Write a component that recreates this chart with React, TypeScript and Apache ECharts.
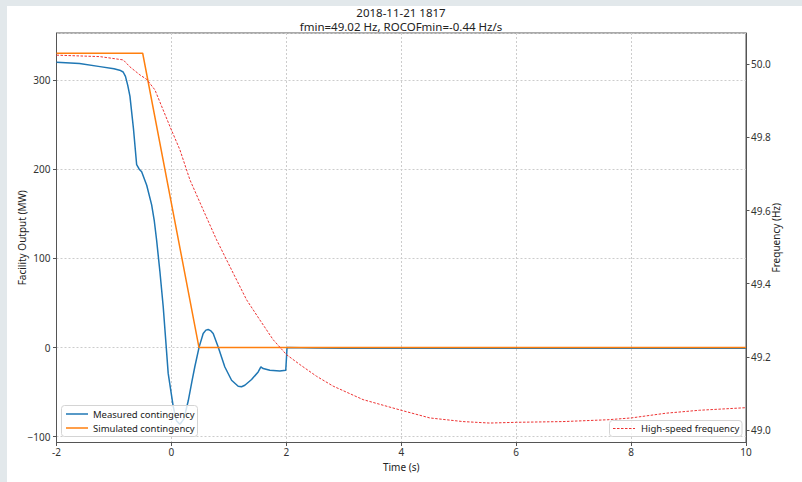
import React, { useEffect, useRef } from "react";
import * as echarts from "echarts";

const FONT = "'Noto Sans', 'Open Sans', sans-serif";

const titleLines = ["2018-11-21 1817", "fmin=49.02 Hz, ROCOFmin=-0.44 Hz/s"];

const measuredTime = [
  -2.0, -1.6, -1.243, -1.0, -0.9, -0.84, -0.8, -0.76, -0.722, -0.66, -0.605, -0.56, -0.518, -0.43,
  -0.344, -0.3, -0.257, -0.2, -0.143, -0.1, -0.056, 0.031, 0.087, 0.148, 0.217, 0.292, 0.357,
  0.409, 0.483, 0.553, 0.6, 0.64, 0.68, 0.727, 0.814, 0.93, 1.047, 1.162, 1.22, 1.278, 1.395,
  1.51, 1.557, 1.597, 1.713, 1.887, 1.99, 2.005, 2.012, 2.5, 3.0, 3.5, 4.0, 4.5, 5.0, 5.5, 6.0,
  6.5, 7.0, 7.5, 8.0, 8.5, 9.0, 9.5, 10.0,
];
const measuredMW = [
  320, 318.5, 315, 312.5, 311, 309, 304, 294, 282, 245, 205, 200, 197, 182,
  160, 143, 120, 85, 46, 9, -29, -66, -82, -86, -80, -60, -38,
  -21, 0.7, 15.7, 19.5, 20.2, 19, 15.7, 0.7, -21.8, -36.7, -43.4, -44, -42.3, -35.9,
  -27.4, -21.8, -23.6, -25.5, -26.2, -25.5, -8.6, 0, -0.6, -0.9, -0.5, -0.8, -0.6, -0.9, -0.5, -0.8,
  -0.6, -0.9, -0.5, -0.8, -0.6, -0.9, -0.5, -0.7,
];

const simulatedTime = [-2.0, -0.5, 0.48, 10.0];
const simulatedMW = [330, 330, 0, 0];

const freqTime = [
  -2.0, -1.243, -0.838, -0.722, -0.548, -0.431, -0.287, -0.026, 0.148, 0.322, 0.553, 0.786,
  1.075, 1.308, 1.539, 1.77, 2.003, 2.235, 2.525, 2.814, 3.336, 3.974, 4.496, 5.075, 5.539,
  6.003, 6.814, 7.597, 8.003, 8.612, 9.191, 10.0,
];
const freqHz = [
  50.025, 50.021, 50.012, 49.993, 49.971, 49.959, 49.93, 49.83, 49.766, 49.684, 49.602, 49.52,
  49.429, 49.356, 49.301, 49.247, 49.206, 49.179, 49.147, 49.12, 49.083, 49.055, 49.033, 49.023, 49.019,
  49.021, 49.023, 49.028, 49.033, 49.046, 49.054, 49.061,
];

const seriesNames = ["Measured contingency", "Simulated contingency", "High-speed frequency"];
const seriesColors = ["#1f77b4", "#ff7f0e", "#ee3333"];

export default function App() {
  const ref = useRef<HTMLDivElement>(null);
  useEffect(() => {
    if (!ref.current) return;
    const chart = echarts.init(ref.current, undefined, { renderer: "svg" });
    const labelColor = "#333";
    const axisColor = "#555";
    const gridLine = { show: true, lineStyle: { color: "#cccccc", type: [2, 2], width: 1 } };
    const legendText = { fontSize: 9.5, fill: "#222", fontFamily: FONT, verticalAlign: "middle", align: "left" };
    const box = { fill: "rgba(255,255,255,0.8)", stroke: "#d4d4d4", lineWidth: 1 };
    const titleStyle = { fontSize: 11.5, fontWeight: "normal", color: "#222", lineHeight: 12, fontFamily: FONT };
    chart.setOption({
      animation: false,
      backgroundColor: "#ffffff",
      textStyle: { fontFamily: FONT },
      graphic: [
        { type: "rect", z: -10, shape: { x: 0, y: 0, width: 802, height: 6 }, style: { fill: "#e2e8eb" } },
        { type: "rect", z: -10, shape: { x: 0, y: 0, width: 7, height: 482 }, style: { fill: "#e2e8eb" } },
        // legend 1
        { type: "rect", z: 100, shape: { x: 61.5, y: 405.5, width: 136, height: 31, r: 3 }, style: box },
        { type: "line", z: 101, shape: { x1: 66, y1: 414, x2: 88, y2: 414 }, style: { stroke: seriesColors[0], lineWidth: 1.5 } },
        { type: "text", z: 101, x: 93, y: 414, style: { ...legendText, text: seriesNames[0] } },
        { type: "line", z: 101, shape: { x1: 66, y1: 428, x2: 88, y2: 428 }, style: { stroke: seriesColors[1], lineWidth: 1.5 } },
        { type: "text", z: 101, x: 93, y: 428, style: { ...legendText, text: seriesNames[1] } },
        // legend 2
        { type: "rect", z: 100, shape: { x: 609.5, y: 420.5, width: 132.5, height: 16, r: 3 }, style: box },
        { type: "line", z: 101, shape: { x1: 613, y1: 428.5, x2: 635, y2: 428.5 }, style: { stroke: seriesColors[2], lineWidth: 1, lineDash: [2.5, 1.5] } },
        { type: "text", z: 101, x: 641, y: 428.5, style: { ...legendText, text: seriesNames[2] } },
      ],
      title: [
        { text: titleLines[0], left: "center", top: 6.5, padding: 0, textStyle: titleStyle },
        { text: titleLines[1], left: "center", top: 20.5, padding: 0, textStyle: titleStyle },
      ],
      grid: {
        left: 56.5,
        right: 56,
        top: 33,
        bottom: 39.5,
        show: true,
        borderColor: axisColor,
        borderWidth: 1,
        backgroundColor: "transparent",
        outerBoundsMode: "none",
        containLabel: false,
      },
      xAxis: {
        type: "value",
        min: -2,
        max: 10,
        interval: 2,
        name: "Time (s)",
        nameLocation: "middle",
        nameGap: 19,
        nameMoveOverlap: false,
        nameTextStyle: { fontSize: 10, color: "#222", lineHeight: 11, fontFamily: FONT },
        axisLine: { show: true, onZero: false, lineStyle: { color: axisColor } },
        axisTick: { show: true, length: 3.5, lineStyle: { color: axisColor } },
        axisLabel: { fontSize: 10, color: labelColor, margin: 3.5, lineHeight: 11, fontFamily: FONT },
        splitLine: gridLine,
      },
      yAxis: [
        {
          type: "value",
          position: "left",
          min: -106.5,
          max: 352.7,
          splitNumber: 5,
          name: "Facility Output (MW)",
          nameLocation: "middle",
          nameRotate: 90,
          nameGap: 30,
          nameMoveOverlap: false,
          nameTextStyle: { fontSize: 10, color: "#222", fontFamily: FONT },
          axisLine: { show: true, onZero: false, lineStyle: { color: axisColor } },
          axisTick: { show: true, length: 3.5, lineStyle: { color: axisColor } },
          axisLabel: {
            fontSize: 10,
            color: labelColor,
            margin: 6,
            showMinLabel: false,
            showMaxLabel: false,
            fontFamily: FONT,
            formatter: (v: number) => String(Math.round(v)).replace("-", "\u2212"),
          },
          splitLine: gridLine,
        },
        {
          type: "value",
          position: "right",
          min: 48.9658,
          max: 50.0856,
          splitNumber: 5,
          name: "Frequency (Hz)",
          nameLocation: "middle",
          nameRotate: 90,
          nameGap: 25,
          nameMoveOverlap: false,
          nameTextStyle: { fontSize: 10, color: "#222", fontFamily: FONT },
          axisLine: { show: true, onZero: false, lineStyle: { color: axisColor } },
          axisTick: { show: true, length: 3.5, lineStyle: { color: axisColor } },
          axisLabel: {
            fontSize: 10,
            color: labelColor,
            margin: 5,
            showMinLabel: false,
            showMaxLabel: false,
            fontFamily: FONT,
            formatter: (v: number) => v.toFixed(1),
          },
          splitLine: { show: false },
        },
      ],
      series: [
        {
          name: seriesNames[0],
          type: "line",
          yAxisIndex: 0,
          color: seriesColors[0],
          symbol: "none",
          data: measuredTime.map((t, i) => [t, measuredMW[i]]),
          lineStyle: { color: seriesColors[0], width: 1.5 },
          z: 2,
        },
        {
          name: seriesNames[1],
          type: "line",
          yAxisIndex: 0,
          color: seriesColors[1],
          symbol: "none",
          data: simulatedTime.map((t, i) => [t, simulatedMW[i]]),
          lineStyle: { color: seriesColors[1], width: 1.5 },
          z: 3,
        },
        {
          name: seriesNames[2],
          type: "line",
          yAxisIndex: 1,
          color: seriesColors[2],
          symbol: "none",
          data: freqTime.map((t, i) => [t, freqHz[i]]),
          lineStyle: { color: seriesColors[2], width: 1, type: [2.5, 1.5] },
          z: 4,
        },
      ],
    });
    return () => chart.dispose();
  }, []);
  return (
    <div
      ref={ref}
      style={{ position: "absolute", left: 0, top: 0, width: 802, height: 482 }}
    />
  );
}
